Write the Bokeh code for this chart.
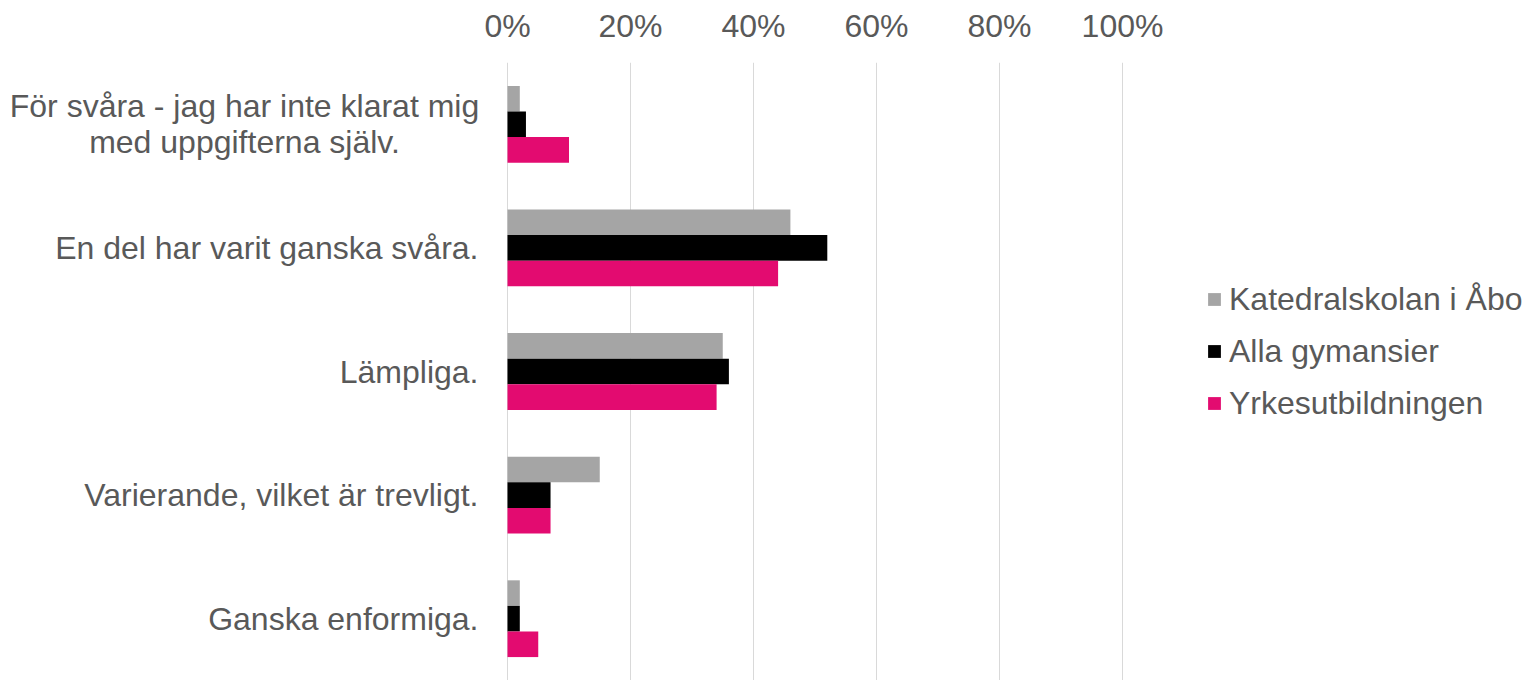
from bokeh.plotting import figure
from bokeh.models import (ColumnDataSource, Range1d, FactorRange, FixedTicker,
                          NumeralTickFormatter, Legend, LegendItem)
from bokeh.core.properties import value
from bokeh.transform import dodge
from bokeh.embed import file_html
from bokeh.resources import INLINE

categories = [
    "För svåra - jag har inte klarat mig\nmed uppgifterna själv.",
    "En del har varit ganska svåra.",
    "Lämpliga.",
    "Varierande, vilket är trevligt.",
    "Ganska enformiga.",
]
series_names = ["Katedralskolan i Åbo", "Alla gymansier", "Yrkesutbildningen"]
katedralskolan = [0.02, 0.46, 0.35, 0.15, 0.02]
alla_gymnasier = [0.03, 0.52, 0.36, 0.07, 0.02]
yrkesutbildningen = [0.10, 0.44, 0.34, 0.07, 0.05]
x_ticks = [0.0, 0.2, 0.4, 0.6, 0.8, 1.0]

colors = ["#A5A5A5", "#000000", "#E30B70"]
text_color = "#595959"
FONT = "Liberation Sans"

src = ColumnDataSource(dict(cat=categories, k=katedralskolan,
                            a=alla_gymnasier, y=yrkesutbildningen))

W, H = 1525, 680
ZERO_PX = 507          # screen position of 0 % inside the frame
px_per_unit = 615.0
x_start = -ZERO_PX / px_per_unit
x_end = (W - ZERO_PX) / px_per_unit

factors = list(reversed(categories))
p = figure(width=W, height=H, output_backend="svg", toolbar_location=None,
           y_range=FactorRange(*factors, range_padding=0),
           x_range=Range1d(x_start, x_end), x_axis_location="above",
           y_axis_location=None,
           min_border_left=0, min_border_right=0, min_border_top=62,
           min_border_bottom=0)
p.outline_line_color = None
p.background_fill_color = "white"
p.border_fill_color = "white"

bh = 0.207
fields = ["k", "a", "y"]
offsets = [bh, 0.0, -bh]
renderers = []
for f, off, c in zip(fields, offsets, colors):
    r = p.hbar(y=dodge("cat", off, range=p.y_range), right=f, left=0,
               height=bh, source=src, fill_color=c, line_color=None)
    renderers.append(r)

# category labels (single-line: right aligned; two-line: centred block)
single = ColumnDataSource(dict(cat=categories[1:], zero=[0.0] * (len(categories) - 1)))
double = ColumnDataSource(dict(cat=categories[:1], zero=[0.0]))
p.text(x="zero", y="cat", text="cat", source=single, x_offset=-29,
       text_align="right", text_baseline="middle",
       text_font=value(FONT), text_font_size="32px", text_color=text_color)
p.text(x="zero", y="cat", text="cat", source=double, x_offset=-263,
       text_align="center", text_baseline="middle", text_line_height=1.0,
       text_font=value(FONT), text_font_size="32px", text_color=text_color)

# x axis (top)
xa = p.xaxis[0]
xa.ticker = FixedTicker(ticks=x_ticks)
xa.formatter = NumeralTickFormatter(format="0%")
xa.axis_line_color = None
xa.major_tick_line_color = None
xa.minor_tick_line_color = None
xa.major_tick_out = 0
xa.major_label_standoff = 19
xa.major_label_text_font = FONT
xa.major_label_text_font_size = "32px"
xa.major_label_text_color = text_color

p.xgrid.grid_line_color = "#D9D9D9"
p.xgrid.grid_line_width = 1
p.ygrid.grid_line_color = None

legend = Legend(items=[LegendItem(label=n, renderers=[r])
                       for n, r in zip(series_names, renderers)],
                location=(1206, 257), orientation="vertical")
legend.label_text_font = FONT
legend.label_text_font_size = "32px"
legend.label_text_color = text_color
legend.glyph_width = 16
legend.glyph_height = 16
legend.label_standoff = 7
legend.label_height = 40
legend.spacing = 12
legend.padding = 0
legend.margin = 0
legend.border_line_color = None
legend.background_fill_alpha = 0
p.add_layout(legend)

open("out.html", "w").write(file_html(p, INLINE))
